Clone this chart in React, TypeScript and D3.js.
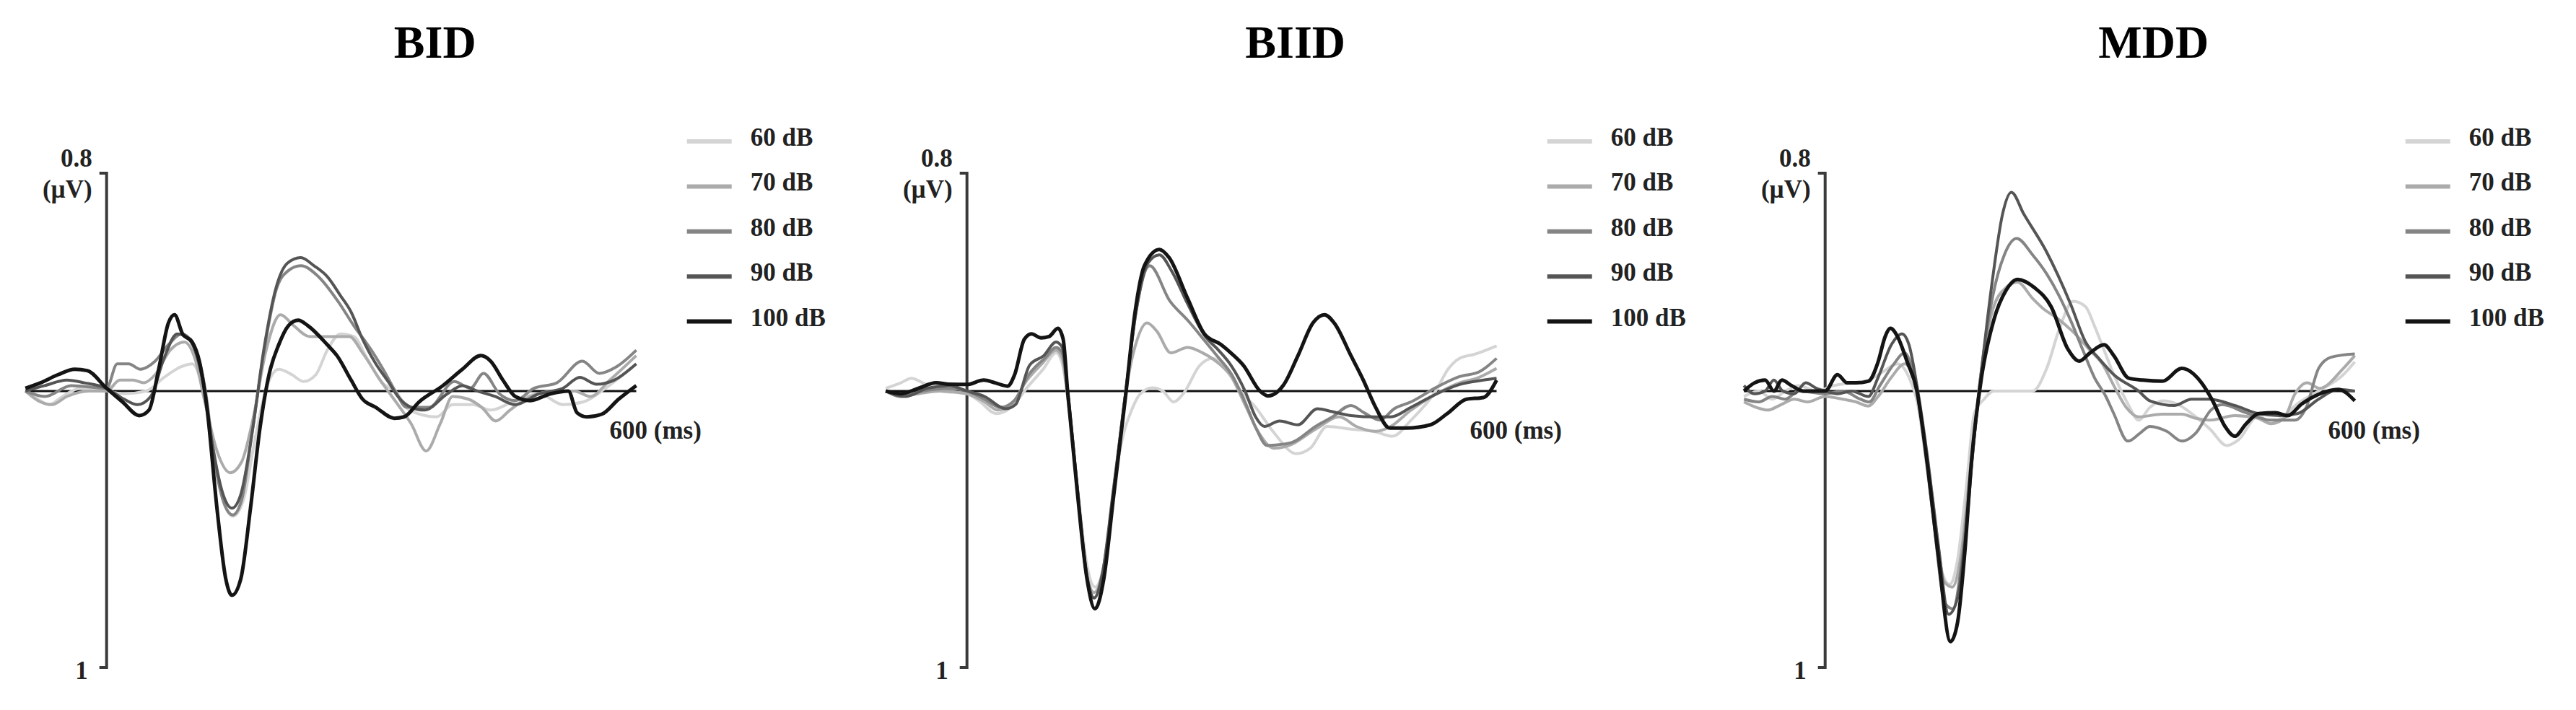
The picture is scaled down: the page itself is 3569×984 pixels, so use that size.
import React, { useEffect, useRef } from 'react';
import * as d3 from 'd3';

// ERP waveforms, [time (ms), amplitude (µV)]
const BID_60: [number, number][] = [[-92,0],[-78,-0.03],[-65,-0.05],[-50,-0.02],[-30,0.01],[0,0.0],[20,-0.01],[45,0.0],[65,0.05],[85,0.09],[97,0.1],[108,0.02],[118,-0.15],[130,-0.38],[143,-0.46],[155,-0.4],[168,-0.18],[180,0.0],[195,0.08],[210,0.06],[223,0.035],[237,0.06],[250,0.15],[265,0.21],[280,0.2],[295,0.12],[312,0.03],[327,0.0],[343,-0.07],[374,-0.095],[392,-0.05],[415,-0.05],[435,-0.07],[460,-0.04],[490,-0.01],[517,-0.05],[540,-0.04],[565,0.01],[600,0.1]];
const BID_70: [number, number][] = [[-92,0],[-75,-0.04],[-62,-0.05],[-45,-0.02],[-20,0.0],[0,0.0],[15,0.04],[30,0.04],[42,0.03],[55,0.06],[72,0.15],[88,0.18],[100,0.12],[112,-0.05],[125,-0.22],[140,-0.3],[153,-0.26],[166,-0.1],[180,0.14],[197,0.28],[212,0.24],[230,0.2],[255,0.2],[275,0.2],[290,0.14],[310,0.04],[330,-0.05],[345,-0.12],[362,-0.22],[378,-0.12],[392,-0.02],[410,-0.03],[425,-0.06],[441,-0.11],[457,-0.07],[480,-0.02],[510,0.0],[530,0.0],[548,-0.02],[570,0.04],[600,0.13]];
const BID_80: [number, number][] = [[-92,0],[-70,-0.02],[-40,0.02],[0,0.01],[12,0.1],[25,0.1],[38,0.08],[55,0.11],[70,0.17],[85,0.21],[100,0.16],[112,0.0],[122,-0.25],[134,-0.42],[143,-0.455],[153,-0.4],[165,-0.15],[178,0.14],[192,0.37],[205,0.44],[220,0.46],[240,0.42],[262,0.33],[280,0.24],[300,0.15],[315,0.07],[327,0.0],[340,-0.06],[365,-0.06],[394,0.035],[412,0.01],[427,0.065],[445,-0.01],[463,-0.035],[484,0.01],[510,0.03],[539,0.11],[558,0.065],[578,0.09],[600,0.15]];
const BID_90: [number, number][] = [[-92,0],[-70,0.02],[-45,0.04],[-25,0.03],[0,0.01],[20,-0.03],[35,-0.05],[50,-0.02],[65,0.12],[80,0.21],[90,0.2],[100,0.15],[110,0.02],[120,-0.2],[132,-0.38],[142,-0.43],[152,-0.38],[165,-0.15],[178,0.15],[192,0.38],[205,0.47],[220,0.49],[235,0.46],[250,0.42],[265,0.35],[277,0.29],[290,0.19],[305,0.1],[320,0.03],[330,-0.02],[345,-0.06],[360,-0.07],[386,-0.01],[403,0.02],[420,0.0],[440,-0.02],[463,-0.05],[490,-0.01],[517,0.01],[536,0.05],[555,0.025],[575,0.04],[600,0.1]];
const BID_100: [number, number][] = [[-92,0.01],[-75,0.03],[-55,0.06],[-36,0.08],[-22,0.075],[0,0.01],[18,-0.04],[37,-0.09],[48,-0.07],[59,0.08],[70,0.25],[77,0.28],[86,0.21],[97,0.18],[105,0.11],[114,-0.07],[125,-0.43],[135,-0.69],[142,-0.75],[152,-0.69],[163,-0.43],[174,-0.13],[184,0.06],[195,0.17],[206,0.24],[217,0.26],[228,0.24],[250,0.17],[261,0.13],[277,0.04],[290,-0.03],[305,-0.06],[326,-0.1],[337,-0.095],[354,-0.04],[381,0.02],[403,0.08],[424,0.13],[435,0.11],[449,0.04],[463,-0.02],[480,-0.035],[503,-0.01],[523,0],[533,-0.08],[544,-0.095],[561,-0.085],[580,-0.03],[600,0.02]];

const BIID_60: [number, number][] = [[-92,0.01],[-75,0.03],[-63,0.047],[-50,0.03],[-30,0.0],[0,-0.01],[15,-0.04],[33,-0.083],[50,-0.06],[70,0.02],[87,0.083],[101,0.14],[108,0.1],[114,-0.02],[125,-0.35],[136,-0.64],[145,-0.72],[155,-0.64],[166,-0.36],[178,-0.15],[185,-0.083],[196,-0.012],[210,0.012],[222,0.0],[234,-0.04],[245,-0.01],[264,0.095],[278,0.12],[295,0.08],[310,0.0],[327,-0.06],[348,-0.154],[373,-0.23],[389,-0.21],[408,-0.13],[435,-0.14],[463,-0.15],[482,-0.166],[503,-0.107],[531,0.0],[545,0.08],[558,0.12],[575,0.135],[600,0.166]];
const BIID_70: [number, number][] = [[-92,0],[-75,-0.02],[-55,-0.01],[-30,0.0],[0,-0.01],[20,-0.04],[35,-0.07],[50,-0.05],[68,0.04],[85,0.1],[101,0.15],[108,0.12],[114,-0.02],[125,-0.36],[135,-0.66],[144,-0.74],[154,-0.66],[166,-0.38],[180,0.0],[192,0.18],[204,0.25],[215,0.22],[231,0.14],[250,0.16],[267,0.14],[283,0.107],[300,0.05],[315,-0.05],[330,-0.15],[348,-0.21],[365,-0.2],[395,-0.14],[422,-0.095],[441,-0.13],[463,-0.148],[480,-0.13],[503,-0.07],[531,-0.012],[558,0.03],[580,0.05],[600,0.083]];
const BIID_80: [number, number][] = [[-92,0],[-75,-0.02],[-50,0.0],[-20,0.01],[0,0.0],[20,-0.03],[38,-0.06],[55,-0.03],[70,0.06],[88,0.12],[101,0.16],[108,0.14],[114,0.0],[125,-0.36],[135,-0.67],[144,-0.76],[154,-0.67],[166,-0.37],[180,0.0],[192,0.3],[207,0.46],[230,0.33],[250,0.26],[268,0.19],[283,0.13],[300,0.06],[315,-0.04],[328,-0.14],[340,-0.2],[367,-0.19],[395,-0.13],[414,-0.095],[435,-0.053],[450,-0.08],[468,-0.107],[484,-0.065],[503,-0.04],[531,0.012],[558,0.053],[580,0.07],[600,0.12]];
const BIID_90: [number, number][] = [[-92,0],[-70,-0.02],[-45,0.01],[-20,0.02],[0,0.0],[20,-0.02],[44,-0.065],[55,-0.05],[71,0.095],[87,0.13],[101,0.18],[108,0.16],[114,0.0],[125,-0.35],[135,-0.66],[144,-0.76],[154,-0.66],[166,-0.36],[180,0.0],[192,0.3],[205,0.47],[218,0.5],[232,0.44],[250,0.32],[270,0.2],[285,0.15],[299,0.095],[315,0.0],[327,-0.095],[337,-0.13],[354,-0.11],[375,-0.124],[397,-0.065],[413,-0.075],[435,-0.09],[463,-0.095],[480,-0.095],[503,-0.06],[531,-0.012],[558,0.024],[585,0.04],[600,0.047]];
const BIID_100: [number, number][] = [[-92,0],[-75,-0.01],[-55,0.01],[-35,0.03],[-20,0.025],[0,0.024],[19,0.04],[32,0.03],[46,0.018],[54,0.06],[65,0.19],[73,0.21],[84,0.195],[93,0.2],[103,0.23],[109,0.19],[114,0],[125,-0.37],[136,-0.69],[145,-0.8],[155,-0.69],[166,-0.39],[180,-0.01],[190,0.28],[201,0.46],[218,0.52],[229,0.49],[250,0.34],[269,0.21],[288,0.17],[299,0.14],[313,0.095],[332,0],[341,-0.018],[359,0.024],[375,0.13],[392,0.25],[405,0.28],[416,0.25],[435,0.13],[449,0.04],[463,-0.06],[479,-0.136],[498,-0.136],[525,-0.124],[544,-0.083],[566,-0.03],[585,-0.024],[600,0.04]];

const MDD_60: [number, number][] = [[-92,-0.02],[-75,0.0],[-60,-0.03],[-45,0.0],[-30,0.02],[-10,0.0],[10,0.02],[30,0.03],[49,0.04],[65,0.07],[82,0.1],[95,0.05],[105,-0.05],[118,-0.35],[132,-0.66],[141,-0.71],[150,-0.62],[160,-0.35],[169,-0.083],[180,-0.03],[191,0.0],[235,0.0],[251,0.083],[265,0.225],[281,0.33],[295,0.31],[305,0.24],[316,0.15],[327,0.06],[343,-0.047],[355,-0.107],[368,-0.06],[382,-0.036],[400,-0.05],[418,-0.09],[436,-0.14],[455,-0.2],[468,-0.18],[491,-0.09],[505,-0.12],[520,-0.09],[535,-0.047],[559,0.0],[587,0.06],[600,0.107]];
const MDD_70: [number, number][] = [[-92,-0.04],[-78,-0.06],[-65,-0.07],[-50,-0.05],[-35,-0.03],[-20,-0.04],[0,-0.02],[20,-0.03],[35,-0.04],[49,-0.055],[60,-0.02],[75,0.05],[90,0.1],[100,0.05],[110,-0.12],[122,-0.4],[135,-0.7],[144,-0.72],[154,-0.6],[164,-0.3],[176,0.05],[190,0.3],[205,0.38],[218,0.4],[235,0.34],[248,0.3],[262,0.27],[280,0.22],[300,0.15],[314,0.1],[327,0.02],[341,-0.06],[355,-0.095],[382,-0.085],[404,-0.085],[420,-0.1],[436,-0.107],[464,-0.09],[490,-0.1],[505,-0.12],[520,-0.1],[532,-0.012],[546,0.03],[560,0.01],[587,0.083],[600,0.13]];
const MDD_80: [number, number][] = [[-92,-0.03],[-75,-0.04],[-60,-0.02],[-45,-0.03],[-30,0.0],[0,-0.01],[20,0.0],[40,-0.03],[50,-0.04],[62,0.02],[78,0.1],[90,0.14],[100,0.06],[110,-0.12],[122,-0.45],[136,-0.78],[145,-0.8],[155,-0.62],[165,-0.3],[176,0.05],[190,0.35],[203,0.5],[217,0.56],[235,0.5],[251,0.43],[265,0.35],[278,0.26],[292,0.15],[305,0.05],[318,-0.02],[327,-0.083],[343,-0.184],[357,-0.154],[368,-0.13],[387,-0.148],[404,-0.184],[420,-0.154],[437,-0.07],[450,-0.05],[477,-0.08],[505,-0.107],[532,-0.107],[545,-0.06],[559,0.083],[573,0.124],[600,0.136]];
const MDD_90: [number, number][] = [[-92,0.02],[-80,-0.01],[-68,0.0],[-58,0.04],[-48,0.0],[-35,-0.01],[-22,0.03],[-10,0.01],[0,0.0],[14,-0.01],[30,0.0],[49,-0.02],[60,0.05],[75,0.17],[87,0.21],[95,0.17],[104,0.02],[115,-0.22],[128,-0.56],[140,-0.82],[150,-0.76],[160,-0.5],[168,-0.2],[178,0.1],[190,0.42],[201,0.65],[211,0.73],[225,0.65],[251,0.51],[278,0.32],[295,0.18],[310,0.12],[327,0.06],[355,0.0],[368,-0.036],[396,-0.053],[415,-0.03],[435,-0.03],[464,-0.053],[491,-0.083],[515,-0.09],[535,-0.083],[559,-0.03],[581,0.006],[600,0.0]];
const MDD_100: [number, number][] = [[-92,0.0],[-80,0.03],[-68,0.04],[-58,0.0],[-49,0.04],[-38,0.02],[-25,0.0],[-12,0.0],[0,0.0],[14,0.06],[25,0.03],[35,0.03],[49,0.036],[60,0.107],[68,0.2],[74,0.23],[82,0.2],[93,0.107],[104,0],[115,-0.25],[128,-0.6],[142,-0.92],[150,-0.85],[158,-0.6],[166,-0.25],[177,0.047],[191,0.26],[205,0.37],[218,0.41],[237,0.38],[256,0.31],[275,0.154],[288,0.11],[300,0.14],[316,0.17],[327,0.13],[344,0.047],[360,0.04],[382,0.036],[404,0.083],[425,0.036],[439,-0.036],[453,-0.13],[464,-0.166],[477,-0.12],[491,-0.083],[510,-0.08],[524,-0.09],[540,-0.047],[559,-0.012],[581,0.006],[600,-0.036]];

const panelTitles = ['BID', 'BIID', 'MDD'];
const levels = ['60 dB', '70 dB', '80 dB', '90 dB', '100 dB'];
const levelColors = ['#d4d4d4', '#ababab', '#858585', '#555555', '#141414'];
const panelSeries = [
    [BID_60, BID_70, BID_80, BID_90, BID_100],
    [BIID_60, BIID_70, BIID_80, BIID_90, BIID_100],
    [MDD_60, MDD_70, MDD_80, MDD_90, MDD_100],
];
const timeDomain: [number, number] = [-92, 600];
const ampDomain: [number, number] = [-1.015, 0.8];

const WIDTH = 3569;
const HEIGHT = 984;
const FONT = '"Liberation Serif", "Times New Roman", serif';

const App: React.FC = () => {
    const svgRef = useRef<SVGSVGElement>(null);

    useEffect(() => {
        if (!svgRef.current) return;
        const svg = d3.select(svgRef.current);
        svg.selectAll('*').remove();

        const axisXs = [147.7, 1339.7, 2528.7];
        const pxPerMs = 1.223;

        const yScale = d3.scaleLinear().domain(ampDomain).range([925, 240]);

        panelSeries.forEach((series, p) => {
            const ax = axisXs[p];
            const xScale = d3.scaleLinear()
                .domain(timeDomain)
                .range([ax + timeDomain[0] * pxPerMs, ax + timeDomain[1] * pxPerMs]);

            const g = svg.append('g');

            // Title
            g.append('text')
                .attr('x', ax + 455)
                .attr('y', 80)
                .attr('text-anchor', 'middle')
                .style('font-family', FONT)
                .style('font-weight', 'bold')
                .style('font-size', '64px')
                .text(panelTitles[p]);

            // Y axis bracket
            const yTop = yScale(ampDomain[1]);
            const yBot = yScale(ampDomain[0]);
            g.append('path')
                .attr('d', `M${ax - 10},${yTop}H${ax}V${yBot}H${ax - 10}`)
                .attr('fill', 'none')
                .attr('stroke', '#3a3a3a')
                .attr('stroke-width', 4);

            const label = (txt: string, x: number, y: number, anchor: string) =>
                g.append('text')
                    .attr('x', x)
                    .attr('y', y)
                    .attr('text-anchor', anchor)
                    .style('font-family', FONT)
                    .style('font-weight', 'bold')
                    .style('font-size', '35px')
                    .style('fill', '#222')
                    .text(txt);

            label('0.8', ax - 20, 231, 'end');
            label('(µV)', ax - 20, 274, 'end');
            label('1', ax - 26, 941, 'end');
            label('600 (ms)', xScale(600) - 37, 608, 'start');

            // Zero line
            g.append('line')
                .attr('x1', xScale(timeDomain[0]))
                .attr('x2', xScale(timeDomain[1]))
                .attr('y1', yScale(0))
                .attr('y2', yScale(0))
                .attr('stroke', '#111')
                .attr('stroke-width', 3);

            // Waveforms
            const line = d3.line<[number, number]>()
                .x(d => xScale(d[0]))
                .y(d => yScale(d[1]))
                .curve(d3.curveMonotoneX);

            series.forEach((data, i) => {
                g.append('path')
                    .datum(data)
                    .attr('fill', 'none')
                    .attr('stroke', levelColors[i])
                    .attr('stroke-width', i === 4 ? 5 : 4)
                    .attr('stroke-linejoin', 'round')
                    .attr('d', line);
            });

            // Legend
            const legend = g.append('g')
                .attr('transform', `translate(${ax + 804}, 196)`);
            levels.forEach((lvl, i) => {
                legend.append('line')
                    .attr('x1', 0)
                    .attr('x2', 62)
                    .attr('y1', i * 62.4)
                    .attr('y2', i * 62.4)
                    .attr('stroke', levelColors[i])
                    .attr('stroke-width', 6);
                legend.append('text')
                    .attr('x', 88)
                    .attr('y', i * 62.4 + 6)
                    .style('font-family', FONT)
                    .style('font-weight', 'bold')
                    .style('font-size', '35px')
                    .style('fill', '#222')
                    .text(lvl);
            });
        });
    }, []);

    return (
        <svg
            ref={svgRef}
            width={WIDTH}
            height={HEIGHT}
            style={{ position: 'absolute', left: 0, top: 0, background: '#fff' }}
        />
    );
};

export default App;
